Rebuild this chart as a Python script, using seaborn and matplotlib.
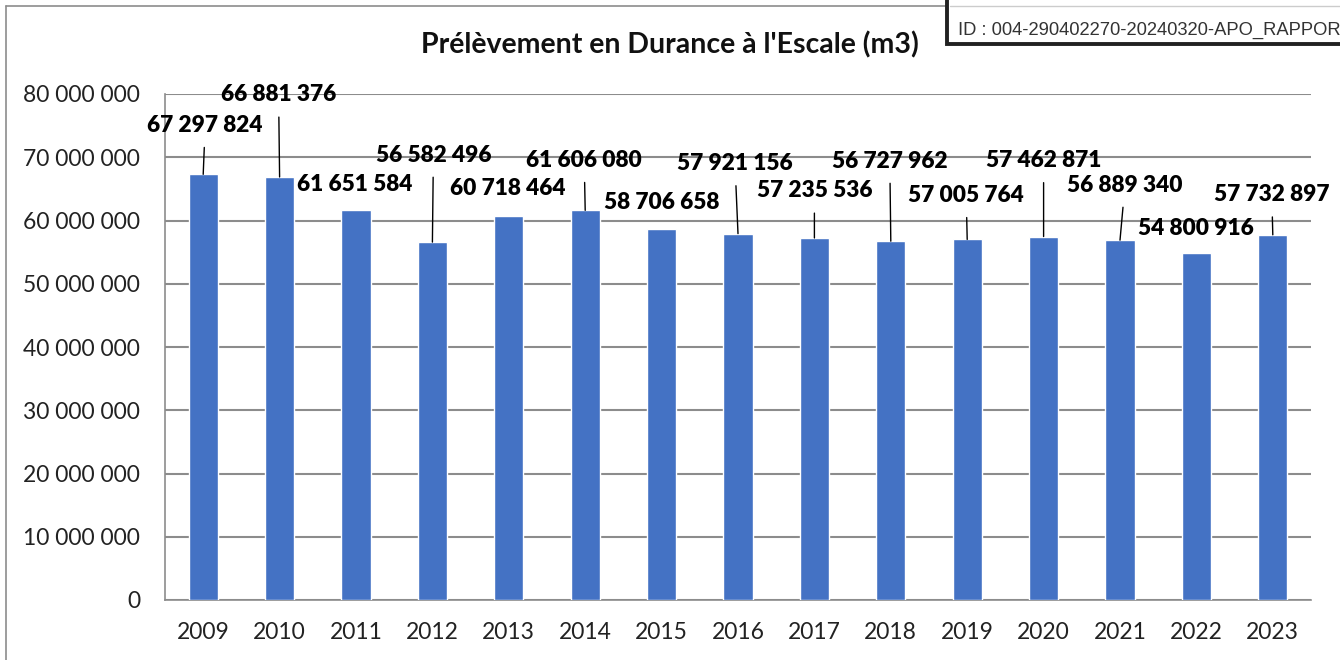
import pandas as pd
import matplotlib.pyplot as plt
import seaborn as sns
from matplotlib.lines import Line2D
from matplotlib.patches import Rectangle

# Données
annees = ['2009', '2010', '2011', '2012', '2013', '2014', '2015', '2016',
          '2017', '2018', '2019', '2020', '2021', '2022', '2023']
volumes = [67297824, 66881376, 61651584, 56582496, 60718464, 61606080, 58706658,
           57921156, 57235536, 56727962, 57005764, 57462871, 56889340, 54800916,
           57732897]
y_ticks = [0, 10000000, 20000000, 30000000, 40000000, 50000000, 60000000,
           70000000, 80000000]

# Décalage des étiquettes (pixels) par rapport au haut des barres
label_dx = [2, -1, -1, 1, -1, -1, 0, -3, 0, -1, -1, 0, 5, -1, -1]
label_dy = [49, 82, 26, 87, 27, 50, 26, 70, 47, 80, 44, 76, 55, 25, 40]

sns.set_theme(style='white')
plt.rcParams['font.family'] = ['Lato', 'DejaVu Sans']


def fmt(v):
    return f'{int(v):,}'.replace(',', ' ')


df = pd.DataFrame({'Année': annees, 'Volume': volumes})

fig = plt.figure(figsize=(13.4, 6.6), dpi=100)
ax = fig.add_axes([165 / 1340, 60 / 660, (1311 - 165) / 1340, (600 - 94) / 660])

sns.barplot(data=df, x='Année', y='Volume', color='#4472C4', saturation=1,
            width=0.38, ax=ax, zorder=3)

ax.set_ylim(0, 80000000)
ax.set_yticks(y_ticks)
ax.set_yticklabels([fmt(t) for t in y_ticks], fontsize=16.5, color='#222222')
ax.tick_params(axis='y', length=0, pad=18)
ax.tick_params(axis='x', length=0, pad=16, labelsize=16.5, labelcolor='#222222')
ax.set_xlabel('')
ax.set_ylabel('')
ax.grid(axis='y', color='#8c8c8c', linewidth=1.5, zorder=0)
ax.set_axisbelow(True)
for s in ['top', 'right']:
    ax.spines[s].set_visible(False)
for s in ['left', 'bottom']:
    ax.spines[s].set_color('#8c8c8c')
    ax.spines[s].set_linewidth(1.2)

# Étiquettes de données avec lignes de repère
for i, v in enumerate(volumes):
    props = None
    if label_dy[i] > 35:
        props = dict(arrowstyle='-', color='black', lw=1, shrinkA=6, shrinkB=0)
    ax.annotate(fmt(v), xy=(i, v), xytext=(label_dx[i], label_dy[i]),
                textcoords='offset pixels', ha='center', va='center',
                fontsize=16.3, fontweight='heavy', color='black',
                arrowprops=props, zorder=5)

fig.text(0.5, 1 - 45 / 660, "Prélèvement en Durance à l'Escale (m3)",
         ha='center', va='center', fontsize=20.5, fontweight='bold', color='#111111')

# Cadre du graphique
fig.add_artist(Line2D([6 / 1340, 6 / 1340], [0, 1 - 6 / 660], color='#8c8c8c', lw=1.2))
fig.add_artist(Line2D([6 / 1340, 1], [1 - 6 / 660, 1 - 6 / 660], color='#8c8c8c', lw=1.2))

# Tampon en haut à droite
fig.add_artist(Rectangle((947 / 1340, 1 - 44 / 660), 420 / 1340, 60 / 660,
                         facecolor='white', edgecolor='#222222', lw=2.8, zorder=10))
fig.add_artist(Line2D([950 / 1340, 1], [1 - 6 / 660, 1 - 6 / 660], color='#cccccc', lw=1, zorder=11))
fig.text(958 / 1340, 1 - 30 / 660, 'ID : 004-290402270-20240320-APO_RAPPOR',
         ha='left', va='center', fontsize=13.2, color='#333333',
         family=['Liberation Sans', 'DejaVu Sans'], zorder=12)

fig.savefig('out.png', dpi=100)
